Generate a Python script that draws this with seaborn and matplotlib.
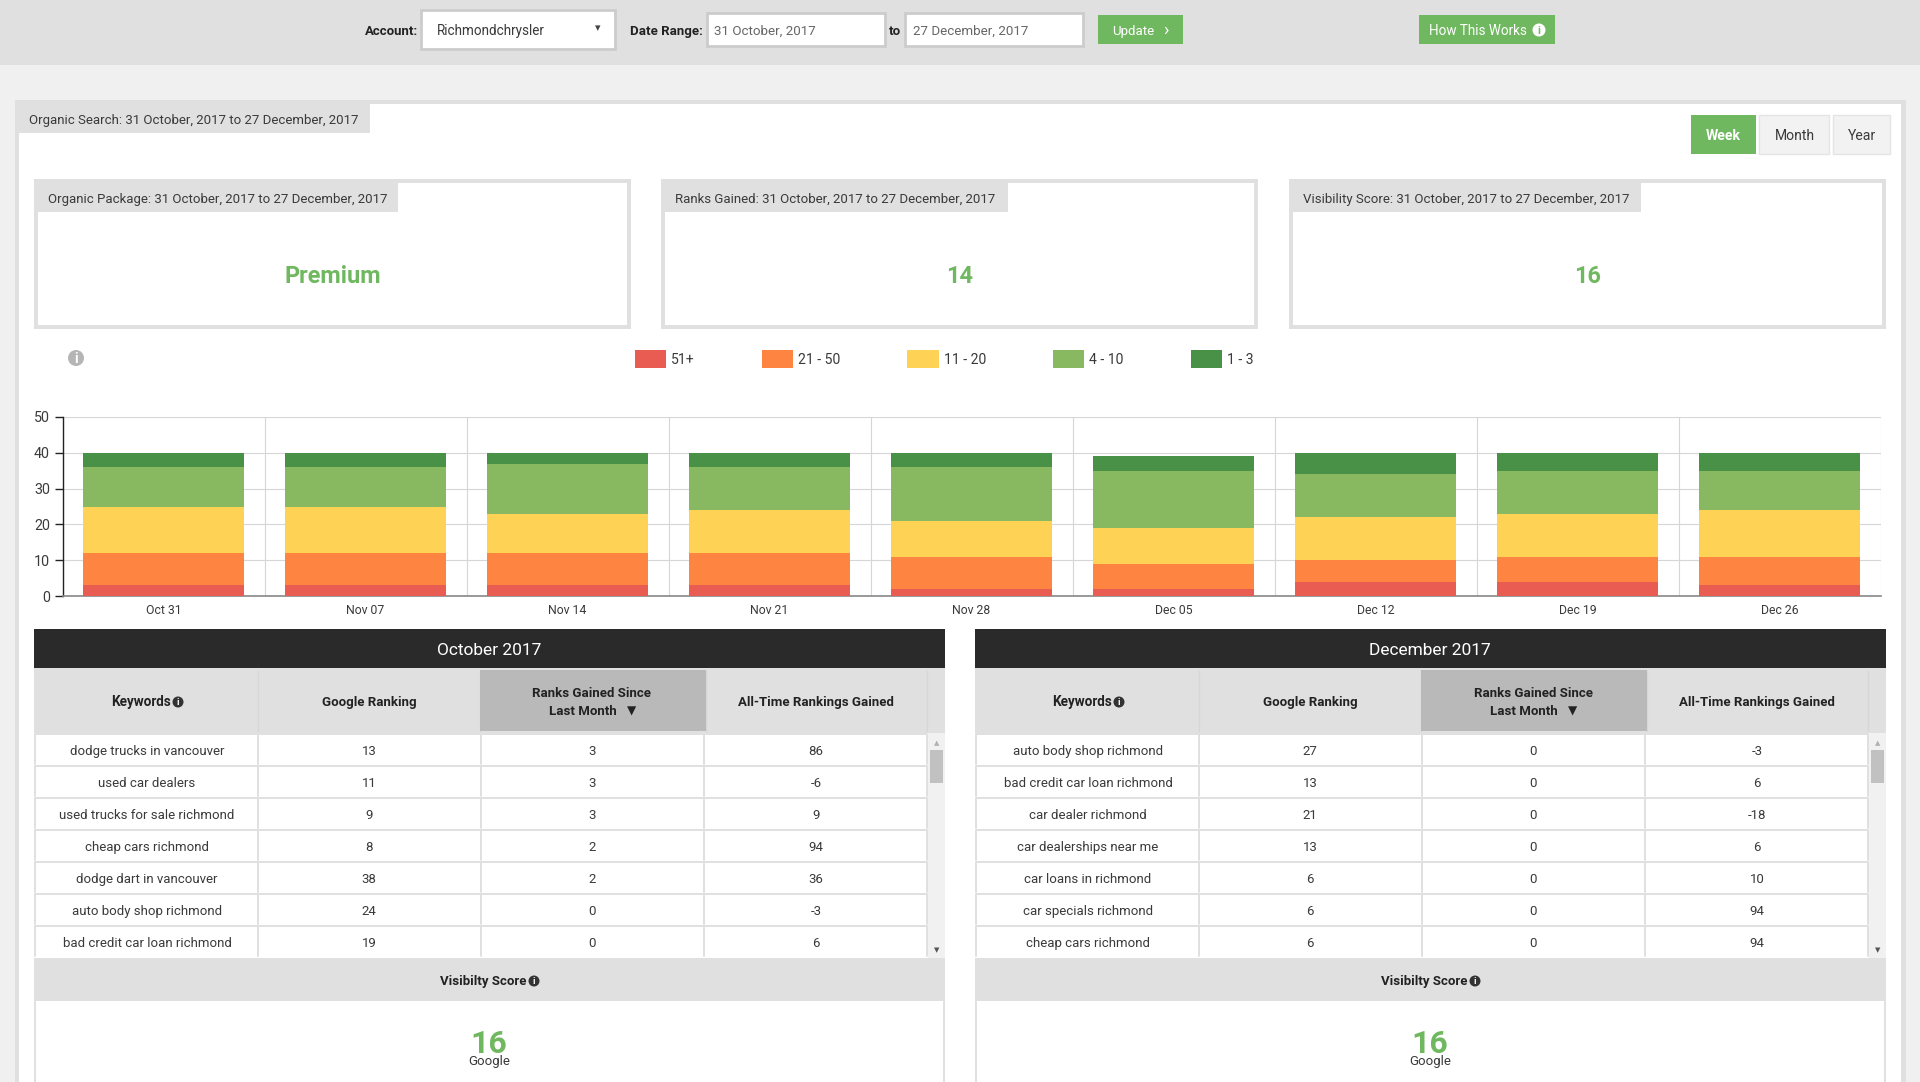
import matplotlib
matplotlib.use("Agg")
import matplotlib.pyplot as plt
from matplotlib.patches import Rectangle, Circle
import numpy as np
import pandas as pd
import seaborn as sns

# ---------- data ----------
dates = ["Oct 31", "Nov 07", "Nov 14", "Nov 21", "Nov 28", "Dec 05", "Dec 12", "Dec 19", "Dec 26"]
series_names = ["51+", "21 - 50", "11 - 20", "4 - 10", "1 - 3"]
rank_51 = [3, 3, 3, 3, 2, 2, 4, 4, 3]
rank_21 = [9, 9, 9, 9, 9, 7, 6, 7, 8]
rank_11 = [13, 13, 11, 12, 10, 10, 12, 12, 13]
rank_4 = [11, 11, 14, 12, 15, 16, 12, 12, 11]
rank_1 = [4, 4, 3, 4, 4, 4, 6, 5, 5]
series_colors = ["#e85c52", "#fe8442", "#fdd255", "#88b85f", "#4a9148"]
y_ticks = [0, 10, 20, 30, 40, 50]

left_title = "October 2017"
left_keywords = ["dodge trucks in vancouver", "used car dealers", "used trucks for sale richmond",
                 "cheap cars richmond", "dodge dart in vancouver", "auto body shop richmond",
                 "bad credit car loan richmond"]
left_rank = ["13", "11", "9", "8", "38", "24", "19"]
left_gain = ["3", "3", "3", "2", "2", "0", "0"]
left_all = ["86", "-6", "9", "94", "36", "-3", "6"]

right_title = "December 2017"
right_keywords = ["auto body shop richmond", "bad credit car loan richmond", "car dealer richmond",
                  "car dealerships near me", "car loans in richmond", "car specials richmond",
                  "cheap cars richmond"]
right_rank = ["27", "13", "21", "13", "6", "6", "6"]
right_gain = ["0", "0", "0", "0", "0", "0", "0"]
right_all = ["-3", "6", "-18", "6", "10", "94", "94"]

period = "31 October, 2017 to 27 December, 2017"
card_titles = ["Organic Package", "Ranks Gained", "Visibility Score"]
card_values = ["Premium", "14", "16"]
score = "16"

# ---------- theme ----------
sns.set_theme(style="white")
plt.rcParams["font.family"] = ["Roboto", "DejaVu Sans"]
W, H = 1920, 1082
fig = plt.figure(figsize=(W / 100, H / 100), dpi=100, facecolor="white")

GREY = "#e0e0e0"
GREEN = "#70b860"
TXT = "#3a3a3a"

bg = fig.add_axes([0, 0, 1, 1])
bg.set_xlim(0, W)
bg.set_ylim(H, 0)
bg.axis("off")


def rect(x0, y0, x1, y1, fc, ec="none", lw=0, z=1):
    bg.add_patch(Rectangle((x0, y0), x1 - x0, y1 - y0, facecolor=fc, edgecolor=ec, linewidth=lw, zorder=z))


def px(s):
    return s * 0.72


def txt(x, y, s, size=13.3, color=TXT, ha="center", weight="normal", z=5):
    bg.text(x, y + 0.36 * size - 0.6, s, fontsize=px(size), color=color, ha=ha, va="baseline",
            fontweight=weight, zorder=z)


def icon(x, y, r, color, ink="white"):
    bg.add_patch(Circle((x, y), r, facecolor=color, edgecolor="none", zorder=5))
    bg.text(x, y + r * 0.62, "i", fontsize=px(r * 1.7), color=ink, ha="center", va="baseline",
            fontweight="bold", zorder=6)


# page
rect(0, 0, W, H, "#f0f0f0", z=0)
rect(0, 0, W, 65, GREY)
rect(15, 100, 1906, H, GREY)
rect(19, 104, 1901, H, "white")

# top bar
txt(418, 30.5, "Account:", 13.3, "#222", "right", "bold")
rect(421, 10, 615, 49, "white", "#cccccc", 2)
txt(437, 30.5, "Richmondchrysler", 13.5, TXT, "left")
txt(598, 28, "▾", 11, "#444")
txt(703, 30.5, "Date Range:", 13.3, "#222", "right", "bold")
rect(707, 13, 885, 46, "white", "#cccccc", 2)
txt(714, 30.5, "31 October, 2017", 13.4, "#666", "left")
txt(895, 30.5, "to", 13.3, "#222", "center", "bold")
rect(905, 13, 1083, 46, "white", "#cccccc", 2)
txt(913, 30.5, "27 December, 2017", 13.4, "#666", "left")
rect(1098, 15, 1183, 44, GREEN)
txt(1133, 30.5, "Update", 13.3, "white")
txt(1166, 29.5, "›", 18, "white")
rect(1419, 15, 1555, 44, GREEN)
txt(1478, 30.5, "How This Works", 13.5, "white")
icon(1539, 30, 6.5, "white", GREEN)

# panel heading + period buttons
rect(19, 104, 370, 133, GREY)
txt(29, 119.5, "Organic Search: " + period, 13.3, TXT, "left")
rect(1691, 114.5, 1756, 154, GREEN)
txt(1723, 135.5, "Week", 14, "white", "center", "bold")
rect(1759, 114.5, 1829, 154, "#f2f2f2", "#e4e4e4", 1)
txt(1795, 135.5, "Month", 14, TXT)
rect(1833, 114.5, 1890, 154, "#f2f2f2", "#e4e4e4", 1)
txt(1862, 135.5, "Year", 14, TXT)

# cards
card_x = [(34, 631, 398), (661, 1258, 1008), (1289, 1886, 1641)]
for (x0, x1, tab), title, val in zip(card_x, card_titles, card_values):
    rect(x0, 179, x1, 329, GREY)
    rect(x0 + 4, 183, x1 - 4, 325, "white", z=2)
    rect(x0, 179, tab, 212, GREY, z=3)
    txt(x0 + 14, 198.5, f"{title}: {period}", 13.3, TXT, "left")
    txt((x0 + x1) / 2, 275, val, 23.5, GREEN, "center", "bold")

icon(76, 358, 8, "#b5b5b5")

# ---------- chart ----------
ax_l, ax_r, ax_t, ax_b = 62.5, 1880.5, 417, 596
ax = fig.add_axes([ax_l / W, 1 - ax_b / H, (ax_r - ax_l) / W, (ax_b - ax_t) / H])
ax.patch.set_alpha(0)
df = pd.DataFrame({"date": dates, "51+": rank_51, "21 - 50": rank_21, "11 - 20": rank_11,
                   "4 - 10": rank_4, "1 - 3": rank_1})
bottom = np.zeros(len(dates))
for name, col in zip(series_names, series_colors):
    sns.barplot(data=df, x="date", y=name, color=col, saturation=1, width=0.8, errorbar=None,
                bottom=bottom, ax=ax, zorder=3, order=dates, linewidth=0, edgecolor="none")
    bottom = bottom + df[name].to_numpy()
ax.set_xlabel("")
ax.set_ylabel("")
ax.set_xlim(-0.5, len(dates) - 0.5)
ax.set_ylim(0, 50)
ax.set_yticks(y_ticks)
ax.set_axisbelow(True)
ax.grid(axis="y", color="#d6d6d6", lw=0.8)
ax.set_xticks(np.arange(len(dates) + 1) - 0.5, minor=True)
ax.grid(axis="x", which="minor", color="#d6d6d6", lw=0.8)
ax.tick_params(axis="x", which="minor", length=0)
ax.tick_params(axis="x", which="major", length=0, labelsize=px(12.3), labelcolor=TXT, pad=5.5)
ax.tick_params(axis="y", length=6, width=1, color="#222", labelsize=px(14.3), labelcolor=TXT, pad=3, left=True)
for s in ["top", "right"]:
    ax.spines[s].set_visible(False)
ax.spines["left"].set_color("#222")
ax.spines["left"].set_linewidth(1)
ax.spines["bottom"].set_color("#888888")
ax.spines["bottom"].set_linewidth(1.2)
fig.legend(handles=[c[0] for c in ax.containers], labels=series_names, ncol=5, frameon=False,
           loc="center", bbox_to_anchor=(944 / W, 1 - 359 / H), fontsize=px(14),
           handlelength=2.25, handleheight=1.56, handletextpad=0.35, columnspacing=4.78,
           labelcolor=TXT, borderpad=0, borderaxespad=0)


# ---------- tables ----------
def table(off, title, kw, rank, gain, alltime):
    cols = [34, 258, 480, 706, 926.5, 945]
    seps = [35, 258, 481, 704, 926.5]
    cx = [147, 369, 592, 816]
    xs = [c + off for c in cols]
    rect(xs[0], 629, xs[-1], 668, "#2a2a2a")
    txt(off + 489, 649, title, 17.4, "white")
    rect(xs[0], 668, xs[-1], 733, GREY)
    for b in cols[1:5]:
        bg.plot([b + off, b + off], [671, 731], color="#d6d6d6", lw=1, zorder=2)
    rect(xs[2], 670, xs[3], 731, "#b9b9b9", z=3)
    txt(off + 141, 702, "Keywords", 13.5, "#222", "center", "bold")
    icon(off + 178, 702, 5.5, "#333")
    txt(off + cx[1], 702, "Google Ranking", 13.3, "#222", "center", "bold")
    txt(off + cx[2], 692.5, "Ranks Gained Since", 13.3, "#222", "center", "bold")
    txt(off + cx[2] - 9, 711, "Last Month", 13.3, "#222", "center", "bold")
    txt(off + 632, 711, "▼", 12, "#222")
    txt(off + cx[3], 702, "All-Time Rankings Gained", 13.3, "#222", "center", "bold")
    # rows
    rect(xs[0], 733, xs[-1], 958, "white", z=2)
    for i in range(7):
        yc = 750.5 + i * 32
        bg.plot([xs[0] + 1, xs[4]], [734 + i * 32] * 2, color=GREY, lw=1.4, zorder=3)
        for b in seps:
            bg.plot([b + off, b + off], [735 + i * 32, 764 + i * 32], color=GREY, lw=1.4, zorder=3)
        for c, s in zip(cx, [kw[i], rank[i], gain[i], alltime[i]]):
            txt(off + c, yc, s, 13.3, TXT)
    # scrollbar
    rect(xs[4] + 1, 733, xs[5], 958, "#f1f1f1", z=3)
    rect(off + 930, 750, off + 943, 783, "#c1c1c1", z=4)
    txt(off + 936.5, 743, "▲", 7, "#b0b0b0")
    txt(off + 936.5, 950, "▼", 7, "#555555")
    # visibility
    rect(xs[0], 958, xs[-1], 1001, GREY, z=3)
    txt(off + 483, 981, "Visibilty Score", 13.3, "#222", "center", "bold")
    icon(off + 534, 981, 5.5, "#333")
    rect(xs[0], 1001, xs[0] + 2, H, GREY, z=3)
    rect(xs[-1] - 2, 1001, xs[-1], H, GREY, z=3)
    txt(off + 489, 1042, score, 32, GREEN, "center", "bold")
    txt(off + 489, 1061, "Google", 13.3, TXT)


table(0, left_title, left_keywords, left_rank, left_gain, left_all)
table(941, right_title, right_keywords, right_rank, right_gain, right_all)

fig.savefig("out.png", dpi=100, facecolor="white")
